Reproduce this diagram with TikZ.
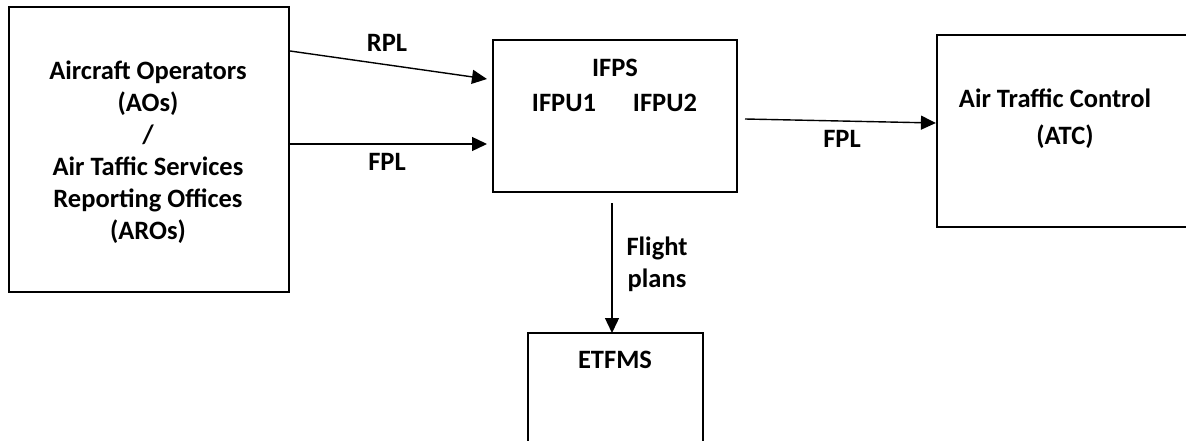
\documentclass[tikz,border=0pt]{standalone}
\usepackage{fontspec}
\setmainfont{Carlito}
\usetikzlibrary{arrows.meta,calc}
\begin{document}
\begin{tikzpicture}[x=1pt,y=-1pt,
  box/.style={draw=black,line width=2.2pt,inner sep=0pt},
  txt/.style={font=\fontsize{26.5}{32}\selectfont\bfseries,inner sep=0pt},
  lbl/.style={txt,anchor=base},
  flow/.style={line width=1.4pt,-{Triangle[length=15pt,width=14pt]}}]
\useasboundingbox (0,0) rectangle (1186,441);
\clip (0,0) rectangle (1186,441);
% boxes
\node[box,minimum width=280pt,minimum height=285pt] (ao) at (149,149.5) {};
\node[box,minimum width=244pt,minimum height=152pt] (ifps) at (615,116) {};
\node[box,minimum width=293pt,minimum height=192pt] (atc) at (1083.5,131) {};
\node[box,minimum width=175pt,minimum height=167pt] (etfms) at (615.5,416.5) {};
% box texts
\node[txt,align=center] (aotxt) at (148,152)
  {Aircraft Operators\\(AOs)\\/\\Air Taffic Services\\Reporting Offices\\(AROs)};
\node[lbl] (ifpstxt) at (615,77) {IFPS};
\node[lbl] (ifpu1) at (564,112) {IFPU1};
\node[lbl] (ifpu2) at (665,112) {IFPU2};
\node[lbl] (atctxt) at (1055,108) {Air Traffic Control};
\node[lbl] (atcabbr) at (1065,145) {(ATC)};
\node[lbl] (etfmstxt) at (615,368) {ETFMS};
% connector end points on the box borders
\coordinate (rplA) at (ao.east |- 0,51);
\coordinate (rplB) at (487,79);
\coordinate (fplA) at (ao.east |- 0,144);
\coordinate (fplB) at (487,144);
\coordinate (outA) at (745,119);
\coordinate (outB) at (atc.west |- 0,123);
\coordinate (dnA) at (612,203);
\coordinate (dnB) at (612,333);
% connectors
\draw[flow] (rplA) -- (rplB);
\draw[flow] (fplA) -- (fplB);
\draw[flow] (outA) -- (outB);
\draw[flow] (dnA) -- (dnB);
% connector labels
\node[lbl] (rpllbl) at (387,52) {RPL};
\node[lbl] (fpllbl) at (387,171) {FPL};
\node[lbl] (fpl2lbl) at (842,148) {FPL};
\node[lbl] (flightlbl) at (657,255) {Flight};
\node[lbl] (planslbl) at (657,287) {plans};
\end{tikzpicture}
\end{document}
